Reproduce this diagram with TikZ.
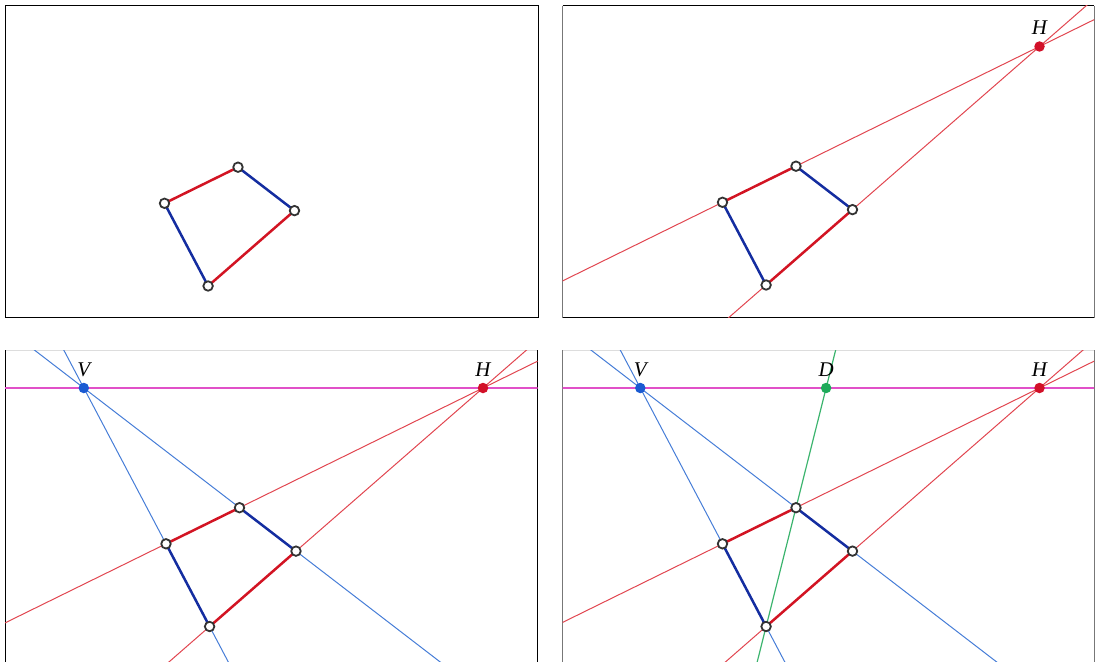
\documentclass[tikz,border=0pt]{standalone}
\usepackage{fontspec}
\setmainfont{Liberation Serif}
\usetikzlibrary{calc}

\definecolor{edgered}{HTML}{D21423}
\definecolor{edgeblue}{HTML}{142DA0}
\definecolor{guidered}{HTML}{E14650}
\definecolor{guideblue}{HTML}{467DD7}
\definecolor{horizonpink}{HTML}{E150C8}
\definecolor{diaggreen}{HTML}{3CB46E}
\definecolor{dotred}{HTML}{D21028}
\definecolor{dotblue}{HTML}{1A5AD2}
\definecolor{dotgreen}{HTML}{1EAA5A}
\definecolor{vertexgray}{HTML}{333333}
\definecolor{sidegray}{HTML}{777777}
\definecolor{topgray}{HTML}{DDDDDD}

% the quadrilateral and its vanishing points, in panel coordinates
\newcommand{\perspcoords}{%
  \coordinate (V) at (82.3,47.5);
  \coordinate (H) at (481.5,47.5);
  \coordinate (A) at (164.5,203.3);
  \coordinate (B) at (238,167.2);
  \coordinate (E) at (208.1,286);
  \coordinate (C) at (intersection of V--B and E--H);
  \coordinate (D) at (intersection of E--B and V--H);
}

\begin{document}
\begin{tikzpicture}[x=1bp,y=-1bp]
\tikzset{
  panelframe/.style={draw=black,line width=1bp},
  guidered/.style={draw=guidered,line width=1bp,shorten <=-700bp,shorten >=-700bp},
  guideblue/.style={draw=guideblue,line width=1bp,shorten <=-700bp,shorten >=-700bp},
  horizonline/.style={draw=horizonpink,line width=1.4bp,shorten <=-700bp,shorten >=-700bp},
  diagonal/.style={draw=diaggreen,line width=1.2bp,shorten <=-700bp,shorten >=-700bp},
  edgered/.style={draw=edgered,line width=2.5bp},
  edgeblue/.style={draw=edgeblue,line width=2.5bp},
  vertex/.style={circle,draw=vertexgray,fill=white,line width=1.8bp,minimum size=9.5bp,inner sep=0pt},
  vpoint/.style={circle,fill=#1,minimum size=10.5bp,inner sep=0pt},
  ptlabel/.style={anchor=base,inner sep=0pt,font=\fontsize{21}{25}\selectfont\itshape}
}
\useasboundingbox (0,0) rectangle (1096,662);

% panel 1: the quadrilateral
\draw[panelframe] (5,6) rectangle (538,317.5);
\begin{scope}
  \perspcoords
  \draw[edgered] (A) -- (B);
  \draw[edgeblue] (B) -- (C);
  \draw[edgered] (C) -- (E);
  \draw[edgeblue] (E) -- (A);
  \node[vertex] (n1A) at (A) {};
  \node[vertex] (n1B) at (B) {};
  \node[vertex] (n1C) at (C) {};
  \node[vertex] (n1E) at (E) {};
\end{scope}

% panel 2: red sides meet in H
\draw[panelframe] (562.7,6) -- (1094,6);
\draw[panelframe] (562.7,317.5) -- (1094,317.5);
\draw[panelframe,draw=sidegray] (562.7,6) -- (562.7,317.5);
\draw[panelframe,draw=sidegray] (1094,6) -- (1094,317.5);
\begin{scope}
  \clip (562.7,6) rectangle (1094,317.5);
  \begin{scope}[shift={(558,-1)}]
    \perspcoords
    \draw[guidered] (A) -- (H);
    \draw[guidered] (E) -- (H);
    \draw[edgered] (A) -- (B);
    \draw[edgeblue] (B) -- (C);
    \draw[edgered] (C) -- (E);
    \draw[edgeblue] (E) -- (A);
    \node[vertex] (n2A) at (A) {};
    \node[vertex] (n2B) at (B) {};
    \node[vertex] (n2C) at (C) {};
    \node[vertex] (n2E) at (E) {};
    \node[vpoint=dotred] (n2H) at (H) {};
    \node[ptlabel] (lab2H) at ([yshift=11.5bp]H) {H};
  \end{scope}
\end{scope}

% panel 3: blue sides meet in V, horizon V--H
\draw[panelframe,draw=topgray] (5,350) -- (537.5,350);
\draw[panelframe] (5,350) -- (5,662);
\draw[panelframe] (537.5,350) -- (537.5,662);
\begin{scope}
  \clip (5,350) rectangle (537.5,662);
  \begin{scope}[shift={(1.5,340.5)}]
    \perspcoords
    \draw[guidered] (A) -- (H);
    \draw[guidered] (E) -- (H);
    \draw[guideblue] (V) -- (E);
    \draw[guideblue] (V) -- (C);
    \draw[horizonline] (V) -- (H);
    \draw[edgered] (A) -- (B);
    \draw[edgeblue] (B) -- (C);
    \draw[edgered] (C) -- (E);
    \draw[edgeblue] (E) -- (A);
    \node[vertex] (n3A) at (A) {};
    \node[vertex] (n3B) at (B) {};
    \node[vertex] (n3C) at (C) {};
    \node[vertex] (n3E) at (E) {};
    \node[vpoint=dotblue] (n3V) at (V) {};
    \node[vpoint=dotred] (n3H) at (H) {};
    \node[ptlabel] (lab3V) at ([yshift=11.5bp]V) {V};
    \node[ptlabel] (lab3H) at ([yshift=11.5bp]H) {H};
  \end{scope}
\end{scope}

% panel 4: the diagonal gives D
\draw[panelframe,draw=topgray] (562.7,350) -- (1094,350);
\draw[panelframe,draw=sidegray] (562.7,350) -- (562.7,662);
\draw[panelframe,draw=sidegray] (1094,350) -- (1094,662);
\begin{scope}
  \clip (562.7,350) rectangle (1094,662);
  \begin{scope}[shift={(558,340.5)}]
    \perspcoords
    \draw[guidered] (A) -- (H);
    \draw[guidered] (E) -- (H);
    \draw[guideblue] (V) -- (E);
    \draw[guideblue] (V) -- (C);
    \draw[horizonline] (V) -- (H);
    \draw[diagonal] (E) -- (D);
    \draw[edgered] (A) -- (B);
    \draw[edgeblue] (B) -- (C);
    \draw[edgered] (C) -- (E);
    \draw[edgeblue] (E) -- (A);
    \node[vertex] (n4A) at (A) {};
    \node[vertex] (n4B) at (B) {};
    \node[vertex] (n4C) at (C) {};
    \node[vertex] (n4E) at (E) {};
    \node[vpoint=dotblue] (n4V) at (V) {};
    \node[vpoint=dotgreen] (n4D) at (D) {};
    \node[vpoint=dotred] (n4H) at (H) {};
    \node[ptlabel] (lab4V) at ([yshift=11.5bp]V) {V};
    \node[ptlabel] (lab4D) at ([yshift=11.5bp]D) {D};
    \node[ptlabel] (lab4H) at ([yshift=11.5bp]H) {H};
  \end{scope}
\end{scope}
\end{tikzpicture}
\end{document}
